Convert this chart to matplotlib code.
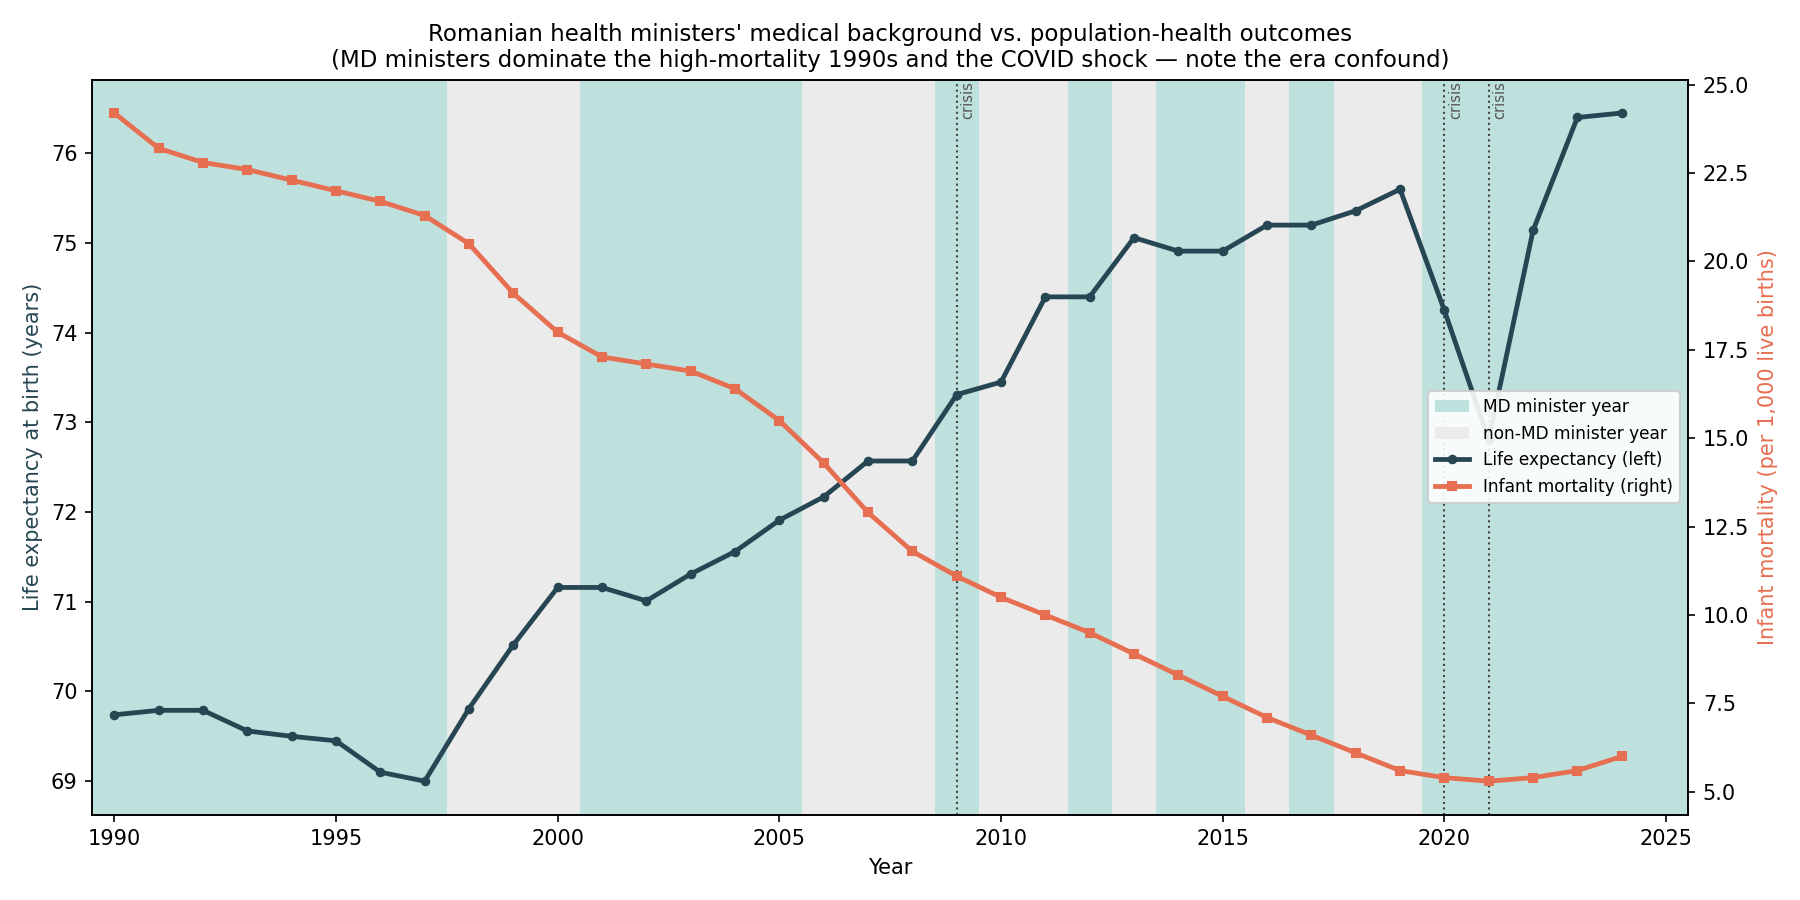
import numpy as np
import matplotlib
matplotlib.use("Agg")
import matplotlib.pyplot as plt
from matplotlib.patches import Patch
from matplotlib.lines import Line2D

# data
years = list(range(1990, 2025))
life_expectancy = [69.74, 69.79, 69.79, 69.56, 69.50, 69.45, 69.10, 69.00, 69.81, 70.52,
                   71.16, 71.16, 71.01, 71.31, 71.56, 71.91, 72.17, 72.57, 72.57, 73.31,
                   73.45, 74.40, 74.40, 75.06, 74.91, 74.91, 75.20, 75.20, 75.36, 75.60,
                   74.25, 72.81, 75.14, 76.40, 76.45]
infant_mortality = [24.2, 23.2, 22.8, 22.6, 22.3, 22.0, 21.7, 21.3, 20.5, 19.1,
                    18.0, 17.3, 17.1, 16.9, 16.4, 15.5, 14.3, 12.9, 11.8, 11.1,
                    10.5, 10.0, 9.5, 8.9, 8.3, 7.7, 7.1, 6.6, 6.1, 5.6,
                    5.4, 5.3, 5.4, 5.6, 6.0]

# minister background per year (True = MD)
minister_years = list(range(1990, 2026))
md_minister = [True] * 8 + [False] * 3 + [True] * 5 + [False] * 3 + [True] + \
              [False] * 2 + [True] + [False] + [True] * 2 + [False] + [True] + \
              [False] * 2 + [True] * 6
crisis_years = [2009, 2020, 2021]

MD_COLOR = "#bfe1dd"
NON_MD_COLOR = "#ebebeb"
LE_COLOR = "#264653"
IM_COLOR = "#e76f51"


def main():
    fig, ax = plt.subplots(figsize=(12, 6), dpi=150)

    # background bands, one per year
    for yr, md in zip(minister_years, md_minister):
        ax.axvspan(yr - 0.5, yr + 0.5, color=MD_COLOR if md else NON_MD_COLOR,
                   lw=0, zorder=0)

    for yr in crisis_years:
        ax.axvline(yr, color="#444444", ls=":", lw=1, zorder=1)
        ax.text(yr + 0.08, 0.998, "crisis", transform=ax.get_xaxis_transform(),
                rotation=90, va="top", ha="left", fontsize=7, color="#555555")

    ax.plot(years, life_expectancy, color=LE_COLOR, lw=2.3, marker="o",
            markersize=3.6, zorder=3)
    ax.set_xlim(1989.5, 2025.5)
    ax.set_xlabel("Year")
    ax.set_ylabel("Life expectancy at birth (years)", color=LE_COLOR)

    ax2 = ax.twinx()
    ax2.plot(years, infant_mortality, color=IM_COLOR, lw=2.3, marker="s",
             markersize=3.6, zorder=3)
    ax2.set_ylabel("Infant mortality (per 1,000 live births)", color=IM_COLOR)

    handles = [
        Patch(facecolor=MD_COLOR, label="MD minister year"),
        Patch(facecolor=NON_MD_COLOR, label="non-MD minister year"),
        Line2D([0], [0], color=LE_COLOR, lw=2.3, marker="o", markersize=3.6,
               label="Life expectancy (left)"),
        Line2D([0], [0], color=IM_COLOR, lw=2.3, marker="s", markersize=3.6,
               label="Infant mortality (right)"),
    ]
    ax2.legend(handles=handles, loc="center right", fontsize=8.2, framealpha=0.9)

    ax.set_title("Romanian health ministers' medical background vs. population-health outcomes\n"
                 "(MD ministers dominate the high-mortality 1990s and the COVID shock \u2014 "
                 "note the era confound)", fontsize=11)

    fig.tight_layout()
    fig.savefig("out.png", dpi=150)


if __name__ == "__main__":
    main()
